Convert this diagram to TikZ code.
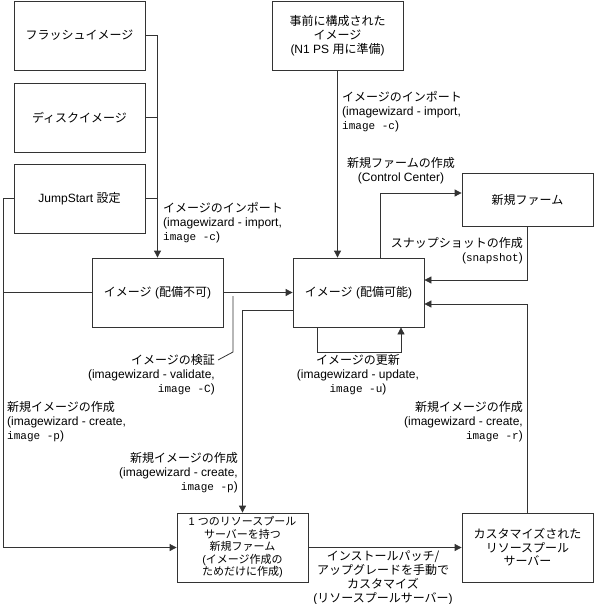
\documentclass[tikz,border=0pt]{standalone}
\usepackage{fontspec}
\setmainfont{Liberation Sans}
\newfontfamily\jpfont{Noto Sans CJK JP}
\newfontfamily\monofont{Liberation Mono}
\newcommand\J[1]{{\jpfont #1}}
\newcommand\cmd[1]{{\monofont\fontsize{11}{14}\selectfont #1}}
\usetikzlibrary{arrows.meta}
\begin{document}
\begin{tikzpicture}[x=1pt,y=-1pt,
  box/.style={draw=black!80, line width=0.8pt, minimum width=131pt, minimum height=69pt,
    inner sep=2pt, align=center, font=\fontsize{12}{14}\selectfont},
  lbl/.style={inner sep=0pt, font=\fontsize{12}{14}\selectfont},
  conn/.style={draw=black!80, line width=0.8pt},
  arr/.style={conn, -{Triangle[length=7pt,width=7pt]}}]
\useasboundingbox (0,0) rectangle (594,604);

% boxes
\node[box] (flash) at (79.5,35.5) {\J{フラッシュイメージ}};
\node[box] (disk) at (79.5,117.5) {\J{ディスクイメージ}};
\node[box] (jump) at (79.5,198.5) {JumpStart \J{設定}};
\node[box] (nd) at (157.5,292.5) {\J{イメージ} (\J{配備不可})};
\node[box] (pre) at (337.5,35.5) {\J{事前に構成された}\\\J{イメージ}\\(N1 PS \J{用に準備})};
\node[box, minimum height=53pt] (farm) at (527.5,199.5) {\J{新規ファーム}};
\node[box] (dp) at (358.5,292.5) {\J{イメージ} (\J{配備可能})};
\node[box, font=\fontsize{11}{12.5}\selectfont] (rp) at (242.5,547.5)
  {1 \J{つのリソースプール}\\\J{サーバーを持つ}\\\J{新規ファーム}\\(\J{イメージ作成の}\\\J{ためだけに作成})};
\node[box, font=\fontsize{12}{13.5}\selectfont] (cust) at (527.5,547.5)
  {\J{カスタマイズされた}\\\J{リソースプール}\\\J{サーバー}};

% labels
\node[lbl, anchor=west, align=left] (impL) at (163,223)
  {\J{イメージのインポート}\\(imagewizard - import,\\\cmd{image -c})};
\node[lbl, anchor=west, align=left] (impT) at (342,112)
  {\J{イメージのインポート}\\(imagewizard - import,\\\cmd{image -c})};
\node[lbl, align=center] (fcr) at (401,171) {\J{新規ファームの作成}\\(Control Center)};
\node[lbl, anchor=east, align=right] (snap) at (523,250.5) {\J{スナップショットの作成}\\(\cmd{snapshot})};
\node[lbl, anchor=east, align=right] (val) at (215,375)
  {\J{イメージの検証}\\(imagewizard - validate,\\\cmd{image -C})};
\node[lbl, anchor=west, align=left] (crL) at (7,422)
  {\J{新規イメージの作成}\\(imagewizard - create,\\\cmd{image -p})};
\node[lbl, anchor=east, align=right] (crM) at (238,473)
  {\J{新規イメージの作成}\\(imagewizard - create,\\\cmd{image -p})};
\node[lbl, align=center] (upd) at (358,375)
  {\J{イメージの更新}\\(imagewizard - update,\\\cmd{image -u})};
\node[lbl, anchor=east, align=right] (crR) at (523,422)
  {\J{新規イメージの作成}\\(imagewizard - create,\\\cmd{image -r})};
\node[lbl, align=center] (cus) at (383,578)
  {\J{インストールパッチ/}\\\J{アップグレードを手動で}\\\J{カスタマイズ}\\(\J{リソースプールサーバー})};

% coordinates
\coordinate (lx) at (3,0);
\coordinate (v1) at (233,296);
\coordinate (v2) at (233,352);
\coordinate (v3) at (218,360);

% connectors
\draw[arr] (flash.east) -| (nd.north);
\draw[conn] (disk.east) -- (disk.east -| nd.north);
\draw[conn] (jump.east) -- (jump.east -| nd.north);
\draw[arr] (jump.west) -- (jump.west -| lx) |- (rp.west);
\draw[conn] (nd.west) -- (nd.west -| lx);
\draw[arr] (nd.east) -- (dp.west);
\draw[conn] (v1) -- (v2) -- (v3);
\draw[arr] ([yshift=-17.5pt]dp.west) -| (rp.north);
\draw[arr] ([xshift=-41.5pt]dp.south) -- ++(0,25) -| ([xshift=42.5pt]dp.south);
\draw[arr] (pre.south) -- (pre.south |- dp.north);
\draw[arr] ([xshift=21.5pt]dp.north) |- ([yshift=6.5pt]farm.west);
\draw[arr] (farm.south) |- ([yshift=12.5pt]dp.east);
\draw[arr] (cust.north) |- ([yshift=-11.5pt]dp.east);
\draw[arr] (rp.east) -- (cust.west);
\end{tikzpicture}
\end{document}
